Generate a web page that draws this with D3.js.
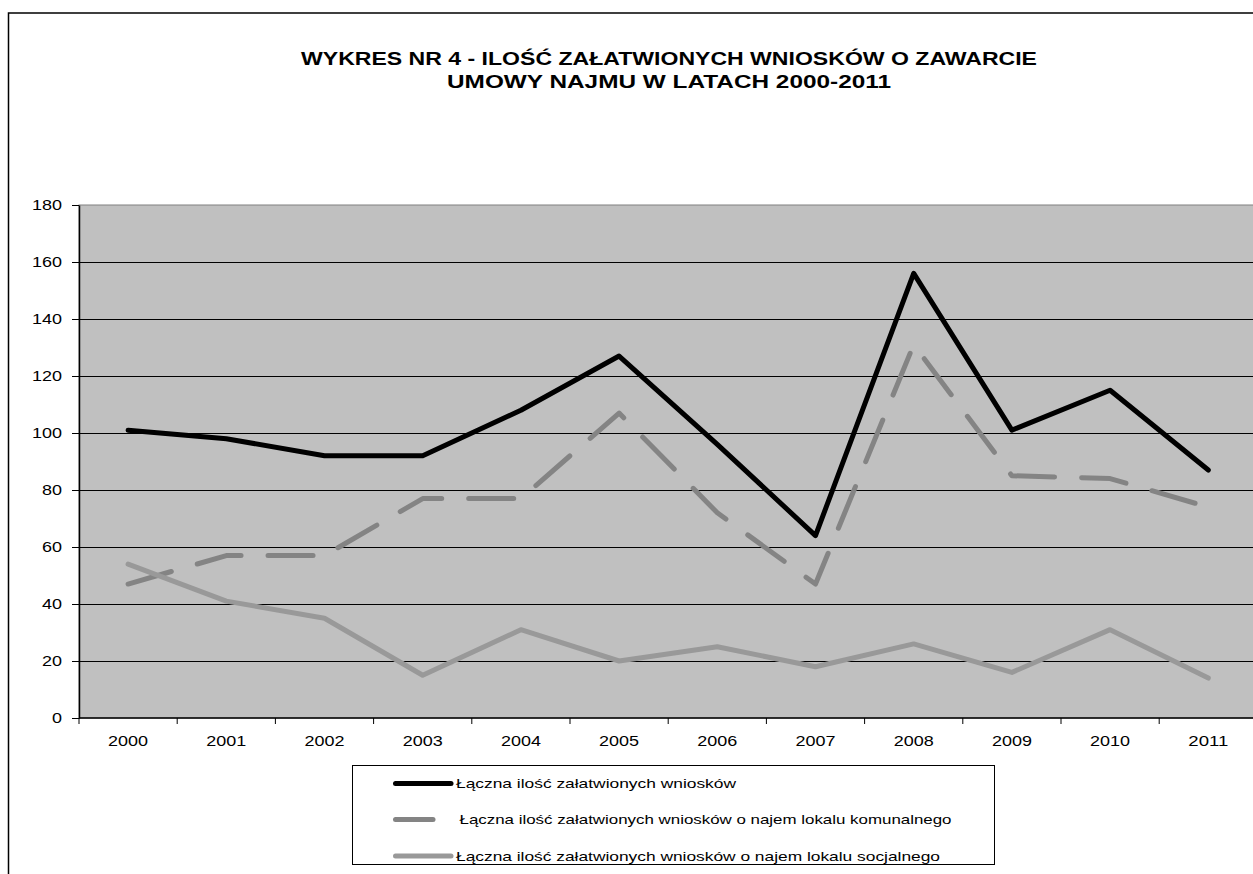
<html>
<head>
<meta charset="utf-8">
<style>
    body {
        margin: 0;
        background: #ffffff;
        font-family: "Liberation Sans", Arial, Helvetica, sans-serif;
    }
    svg { display: block; }
    .axis text {
        font-family: "Liberation Sans", Arial, sans-serif;
        font-size: 15px;
        fill: #000;
    }
    .legend text {
        font-family: "Liberation Sans", Arial, sans-serif;
        font-size: 13.5px;
        fill: #000;
    }
</style>
</head>
<body>
<svg id="chart" width="1253" height="874"></svg>
<script src="https://d3js.org/d3.v7.min.js"></script>
<script>

    // data
    let years = ["2000","2001","2002","2003","2004","2005","2006","2007","2008","2009","2010","2011"]
    let total = [101, 98, 92, 92, 108, 127, 96, 64, 156, 101, 115, 87]
    let communal = [47, 57, 57, 77, 77, 107, 72, 47, 131, 85, 84, 74]
    let social = [54, 41, 35, 15, 31, 20, 25, 18, 26, 16, 31, 14]
    let yTicks = [0, 20, 40, 60, 80, 100, 120, 140, 160, 180]

    let titleLines = ["WYKRES NR 4 - ILOŚĆ ZAŁATWIONYCH WNIOSKÓW O ZAWARCIE", "UMOWY NAJMU W LATACH 2000-2011"]
    let seriesNames = [
        "Łączna ilość załatwionych wniosków",
        "Łączna ilość załatwionych wniosków o najem lokalu komunalnego",
        "Łączna ilość załatwionych wniosków o najem lokalu socjalnego"
    ]

    let plot = {left: 79, right: 1257.4, top: 205, bottom: 718}

    let svg = d3.select("#chart")

    // outer chart frame (runs off the right and bottom edge)
    svg.append("rect")
        .attr("x", 8.5).attr("y", 13)
        .attr("width", 1300).attr("height", 900)
        .attr("fill", "white")
        .attr("stroke", "black")
        .attr("stroke-width", 1.5)

    // title
    let titleWidths = [736, 444]
    svg.selectAll(".title")
        .data(titleLines)
        .enter().append("text")
        .attr("class", "title")
        .attr("x", 669)
        .attr("y", (d, i) => 65 + i * 23)
        .attr("text-anchor", "middle")
        .attr("textLength", (d, i) => titleWidths[i])
        .attr("lengthAdjust", "spacingAndGlyphs")
        .style("font-family", "'Liberation Sans', Arial, sans-serif")
        .style("font-weight", "bold")
        .style("font-size", "17.5px")
        .text(d => d)

    let xScale = d3.scaleBand()
        .domain(years)
        .range([plot.left, plot.right])

    let yScale = d3.scaleLinear()
        .domain([0, 180])
        .range([plot.bottom, plot.top])

    // plot area
    svg.append("rect")
        .attr("x", plot.left).attr("y", plot.top)
        .attr("width", plot.right - plot.left)
        .attr("height", plot.bottom - plot.top)
        .attr("fill", "#c0c0c0")
        .attr("stroke", "#808080")
        .attr("stroke-width", 1)

    // gridlines
    svg.append("g")
        .selectAll("line")
        .data(yTicks.filter(t => t > 0 && t < 180))
        .enter().append("line")
        .attr("x1", plot.left).attr("x2", plot.right)
        .attr("y1", d => Math.round(yScale(d)) + 0.5)
        .attr("y2", d => Math.round(yScale(d)) + 0.5)
        .attr("stroke", "black")
        .attr("stroke-width", 1)

    // y axis
    let yAxis = svg.append("g")
        .attr("class", "axis")
        .attr("transform", `translate(${plot.left},0)`)
        .call(d3.axisLeft(yScale).tickValues(yTicks).tickSize(7).tickSizeOuter(0).tickPadding(10))
    yAxis.select(".domain").attr("stroke", "black").attr("stroke-width", 1.5)
    yAxis.selectAll("text")
        .attr("textLength", d => String(d).length * 10)
        .attr("lengthAdjust", "spacingAndGlyphs")

    // x axis: labels at band centres, ticks on band edges
    let xAxis = svg.append("g")
        .attr("class", "axis")
        .attr("transform", `translate(0,${plot.bottom})`)
        .call(d3.axisBottom(xScale).tickSize(0).tickPadding(17))
    xAxis.select(".domain").remove()
    xAxis.selectAll("text")
        .attr("textLength", 40)
        .attr("lengthAdjust", "spacingAndGlyphs")

    svg.append("line")
        .attr("x1", plot.left).attr("x2", plot.right)
        .attr("y1", plot.bottom).attr("y2", plot.bottom)
        .attr("stroke", "black").attr("stroke-width", 1.5)

    svg.append("g")
        .selectAll("line")
        .data(years.map(y => xScale(y)).concat([plot.right]))
        .enter().append("line")
        .attr("x1", d => d).attr("x2", d => d)
        .attr("y1", plot.bottom).attr("y2", plot.bottom + 6)
        .attr("stroke", "black").attr("stroke-width", 1)

    // series lines
    let series = [
        {name: seriesNames[0], values: total, color: "#000000", dash: null},
        {name: seriesNames[1], values: communal, color: "#848484", dash: "45 27"},
        {name: seriesNames[2], values: social, color: "#999999", dash: null}
    ]

    let line = d3.line()
        .x((d, i) => xScale(years[i]) + xScale.bandwidth() / 2)
        .y(d => yScale(d))

    svg.append("g")
        .selectAll("path")
        .data(series)
        .enter().append("path")
        .attr("d", d => line(d.values))
        .attr("fill", "none")
        .attr("stroke", d => d.color)
        .attr("stroke-width", 5)
        .attr("stroke-linejoin", "round")
        .attr("stroke-linecap", "round")
        .attr("stroke-dasharray", d => d.dash)

    // legend
    let legend = svg.append("g").attr("class", "legend")
    legend.append("rect")
        .attr("x", 352.5).attr("y", 765.5)
        .attr("width", 642).attr("height", 99)
        .attr("fill", "white")
        .attr("stroke", "black")
        .attr("stroke-width", 1)

    let rowY = [783.5, 819.5, 856]
    let sampleEnd = [451, 433, 451]
    let textX = [456, 459.5, 456]
    let textLen = [280, 492, 484]

    let rows = legend.selectAll(".row")
        .data(series)
        .enter().append("g")
        .attr("class", "row")

    rows.append("line")
        .attr("x1", 395.5)
        .attr("x2", (d, i) => sampleEnd[i])
        .attr("y1", (d, i) => rowY[i])
        .attr("y2", (d, i) => rowY[i])
        .attr("stroke", d => d.color)
        .attr("stroke-width", 5)
        .attr("stroke-linecap", "round")

    rows.append("text")
        .attr("x", (d, i) => textX[i])
        .attr("y", (d, i) => rowY[i] + 4.5)
        .attr("textLength", (d, i) => textLen[i])
        .attr("lengthAdjust", "spacingAndGlyphs")
        .text(d => d.name)

</script>
</body>
</html>
